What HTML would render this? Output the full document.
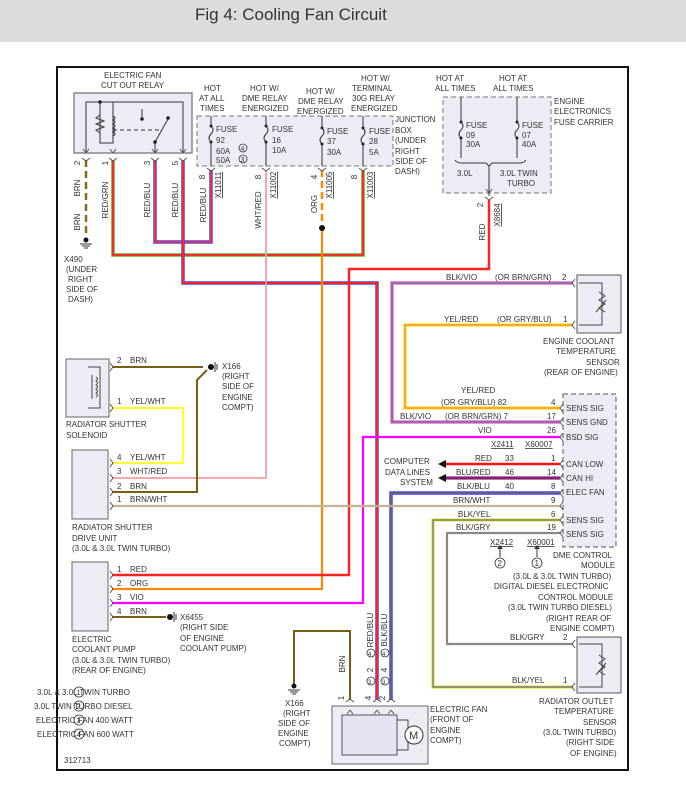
<!DOCTYPE html>
<html><head><meta charset="utf-8"><style>
html,body{margin:0;padding:0;background:#fff;}
svg{display:block;}
text{font-family:"Liberation Sans",sans-serif;font-size:8px;fill:#333;}
.t{font-size:17px;fill:#333;}
</style></head><body>
<svg width="686" height="791" viewBox="0 0 686 791" xmlns="http://www.w3.org/2000/svg">
<rect x="0" y="0" width="686" height="42" fill="#dcdcdc"/>
<text class="t" x="195" y="20">Fig 4: Cooling Fan Circuit</text>
<rect x="57" y="67" width="571" height="703" fill="#fff" stroke="#111" stroke-width="2"/>

<rect x="74" y="93" width="118" height="60" fill="#ececf6" stroke="#888" stroke-width="1.5"/>
<rect x="197" y="116" width="196" height="50" fill="#ececf6" stroke="#777" stroke-dasharray="5,3"/>
<rect x="443" y="97" width="108" height="96" fill="#ececf6" stroke="#777" stroke-dasharray="5,3"/>
<rect x="563" y="394" width="53" height="153" fill="#ececf6" stroke="#555" stroke-dasharray="5,3"/>
<rect x="577" y="275" width="44" height="58" fill="#ececf6" stroke="#555"/>
<rect x="577" y="637" width="44" height="56" fill="#ececf6" stroke="#555"/>
<rect x="66" y="359" width="43" height="58" fill="#ececf6" stroke="#666"/>
<rect x="72" y="450" width="36" height="69" fill="#ececf6" stroke="#666"/>
<rect x="72" y="562" width="36" height="69" fill="#ececf6" stroke="#666"/>
<rect x="332" y="706" width="96" height="58" fill="#ececf6" stroke="#666"/>
<rect x="342" y="715" width="55" height="40" fill="#e4e4f4" stroke="#555"/>

<g stroke="#333" fill="none" stroke-width="1">
<path d="M86 153V102H113M100 102V143H113V102M113 102H183V153M142 120V109"/>
<path d="M100 115l-4 3 8 3-8 3 8 3-8 3 4 3"/>
<path d="M113 116q4 2 0 4q4 2 0 4q4 2 0 4q4 2 0 4q4 2 0 4"/>
<path d="M113 130H160" stroke-dasharray="4,3"/>
<path d="M155 153V142L168 119"/>
</g>
<circle cx="100" cy="102" r="1.8" fill="#222"/><circle cx="142" cy="119" r="1.8" fill="#222"/><circle cx="155" cy="142" r="1.8" fill="#222"/><circle cx="168" cy="118" r="1.8" fill="#222"/>
<text x="104" y="78">ELECTRIC FAN</text><text x="101" y="88">CUT OUT RELAY</text>

<g stroke="#333" fill="none">
<path d="M211 116V126q4 4 0 8q-4 4 0 8V166"/>
<path d="M266 116V126q4 4 0 8q-4 4 0 8V166"/>
<path d="M322 116V128q4 4 0 8q-4 4 0 8V166"/>
<path d="M363 116V128q4 4 0 8q-4 4 0 8V166"/>
<path d="M461 97V122q4 4 0 8q-4 4 0 8V158"/>
<path d="M517 97V122q4 4 0 8q-4 4 0 8V158"/>
<path d="M455 160q2 3 6 3H486l3 3 3-3H520q4 0 6-3M489 166V196"/>
</g>
<g fill="#222"><circle cx="211" cy="126" r="1.5"/><circle cx="211" cy="142" r="1.5"/><circle cx="266" cy="126" r="1.5"/><circle cx="266" cy="142" r="1.5"/><circle cx="322" cy="128" r="1.5"/><circle cx="322" cy="144" r="1.5"/><circle cx="363" cy="128" r="1.5"/><circle cx="363" cy="144" r="1.5"/><circle cx="461" cy="122" r="1.5"/><circle cx="461" cy="138" r="1.5"/><circle cx="517" cy="122" r="1.5"/><circle cx="517" cy="138" r="1.5"/></g>
<text x="216" y="132">FUSE</text><text x="216" y="143">92</text><text x="216" y="154">60A</text><text x="216" y="163">50A</text>
<circle cx="243" cy="148" r="4" fill="none" stroke="#333" stroke-width=".8"/><text x="240.5" y="151" style="font-size:7px">4</text>
<circle cx="243" cy="159" r="4" fill="none" stroke="#333" stroke-width=".8"/><text x="240.5" y="162" style="font-size:7px">3</text>
<text x="272" y="132">FUSE</text><text x="272" y="143">16</text><text x="272" y="153">10A</text>
<text x="327" y="134">FUSE</text><text x="327" y="144">37</text><text x="327" y="155">30A</text>
<text x="369" y="134">FUSE</text><text x="369" y="144">28</text><text x="369" y="155">5A</text>
<text x="204" y="91">HOT</text><text x="199" y="101">AT ALL</text><text x="200" y="111">TIMES</text>
<text x="250" y="91">HOT W/</text><text x="242" y="101">DME RELAY</text><text x="242" y="111">ENERGIZED</text>
<text x="306" y="94">HOT W/</text><text x="298" y="104">DME RELAY</text><text x="297" y="114">ENERGIZED</text>
<text x="361" y="81">HOT W/</text><text x="352" y="91">TERMINAL</text><text x="352" y="101">30G RELAY</text><text x="351" y="111">ENERGIZED</text>
<text x="395" y="122">JUNCTION</text><text x="395" y="133">BOX</text><text x="395" y="143">(UNDER</text><text x="395" y="154">RIGHT</text><text x="395" y="164">SIDE OF</text><text x="395" y="174">DASH)</text>
<text x="436" y="81">HOT AT</text><text x="435" y="91">ALL TIMES</text><text x="499" y="81">HOT AT</text><text x="493" y="91">ALL TIMES</text>
<text x="554" y="104">ENGINE</text><text x="554" y="114">ELECTRONICS</text><text x="554" y="125">FUSE CARRIER</text>
<text x="466" y="128">FUSE</text><text x="466" y="138">09</text><text x="466" y="147">30A</text>
<text x="522" y="128">FUSE</text><text x="522" y="138">07</text><text x="522" y="147">40A</text>
<text x="457" y="176">3.0L</text><text x="500" y="176">3.0L TWIN</text><text x="507" y="186">TURBO</text>

<g fill="none" stroke-linejoin="miter">
<path d="M86 160V235" stroke="#8a6a1a" stroke-width="2.5" stroke-dasharray="7,4"/>
<path d="M113 160V255H363V170" stroke="#6a3" stroke-width="3.5"/><path d="M113 160V255H363V170" stroke="#f22" stroke-width="1.8"/>
<path d="M155 160V242H211V170" stroke="#44f" stroke-width="3.5"/><path d="M155 160V242H211V170" stroke="#e33" stroke-width="1.8"/>
<path d="M183 160V283H377V700" stroke="#44f" stroke-width="3.5"/><path d="M183 160V283H377V700" stroke="#f22" stroke-width="2"/>
<path d="M266 170V478H112" stroke="#f4a8a8" stroke-width="2"/>
<path d="M322 170V228" stroke="#f80" stroke-width="2.5" stroke-dasharray="7,4"/>
<path d="M322 228V589H112" stroke="#f80" stroke-width="2.2"/>
<path d="M489 200V269H349V575H112" stroke="#f22" stroke-width="2.5"/>
<path d="M560 437H363V603H112" stroke="#f0f" stroke-width="2.2"/>
<path d="M573 283H392V422H560" stroke="#e6e" stroke-width="3.5"/><path d="M573 283H392V422H560" stroke="#777" stroke-width="1.6"/>
<path d="M573 325H405V408H560" stroke="#fe3" stroke-width="3.5"/><path d="M573 325H405V408H560" stroke="#f93" stroke-width="1.8"/>
<path d="M560 464H446" stroke="#f11" stroke-width="2.5"/>
<path d="M560 478H446" stroke="#e33" stroke-width="3.5"/><path d="M560 478H446" stroke="#33c" stroke-width="1.8"/>
<path d="M560 493H391V700" stroke="#44f" stroke-width="3.5"/><path d="M560 493H391V700" stroke="#666" stroke-width="1.6"/>
<path d="M560 506H112" stroke="#c0b494" stroke-width="2.2"/>
<path d="M560 520H433V687H573" stroke="#ee5" stroke-width="3.5"/><path d="M560 520H433V687H573" stroke="#777" stroke-width="1.4"/>
<path d="M560 533H447V644H573" stroke="#888" stroke-width="2.2"/>
<path d="M112 367H203M112 492H197V380L207 370" stroke="#7a5c14" stroke-width="2"/>
<path d="M112 408H183V463H112" stroke="#ff3" stroke-width="2.2"/>
<path d="M112 617H166" stroke="#7a5c14" stroke-width="2"/>
<path d="M350 700V631H294V684" stroke="#7a5c14" stroke-width="2"/>
</g>
<circle cx="86" cy="240" r="2.5" fill="#111"/><path d="M80 244H92M82 246H90M84 248H88" stroke="#333"/>
<circle cx="322" cy="228" r="3" fill="#111"/>
<circle cx="294" cy="686" r="2.5" fill="#111"/><path d="M288 690H300M290 692H298M292 694H296" stroke="#333"/>
<circle cx="211" cy="367" r="3" fill="#111"/><path d="M215 362V372M217 364V370" stroke="#333"/>
<circle cx="170" cy="617" r="3" fill="#111"/><path d="M174 612V622M176 614V620" stroke="#333"/>
<path d="M446 460L438 464L446 468Z M446 474L438 478L446 482Z" fill="#111"/>

<g fill="none" stroke="#555" stroke-width="1">
<path d="M82 158l4 3 4-3M109 158l4 3 4-3M151 158l4 3 4-3M179 158l4 3 4-3M207 168l4 3 4-3M262 168l4 3 4-3M318 168l4 3 4-3M359 168l4 3 4-3M485 197l4 3 4-3"/>
<path d="M86 153l-3-4M86 153l3-4M113 153l-3-4M113 153l3-4M155 153l-3-4M155 153l3-4M183 153l-3-4M183 153l3-4M489 193l-3-4M489 193l3-4"/>
<path d="M575 279l-3 4 3 4M575 321l-3 4 3 4M575 640l-3 4 3 4M575 683l-3 4 3 4"/>
<path d="M563 404l-3 4 3 4M563 418l-3 4 3 4M563 433l-3 4 3 4M563 460l-3 4 3 4M563 474l-3 4 3 4M563 489l-3 4 3 4M563 502l-3 4 3 4M563 516l-3 4 3 4M563 529l-3 4 3 4"/>
<path d="M110 363l3 4-3 4M110 404l3 4-3 4M110 459l3 4-3 4M110 474l3 4-3 4M110 488l3 4-3 4M110 502l3 4-3 4M110 571l3 4-3 4M110 585l3 4-3 4M110 599l3 4-3 4M110 613l3 4-3 4"/>
<path d="M346 702l4-3 4 3M373 702l4-3 4 3M387 702l4-3 4 3M350 710l-3 4M350 710l3 4M377 710l-3 4M377 710l3 4M391 710l-3 4M391 710l3 4"/>
</g>
<g fill="none" stroke="#444"><path d="M579 283H602V325H579M599 292l6 4-6 4 6 4-6 4 6 4M596 312l10-12"/>
<path d="M579 644H602V687H579M599 655l6 4-6 4 6 4-6 4 6 4M596 675l10-12"/>
<path d="M88 367H100V408H88M92 375v24M96 377q3 2 0 4q3 2 0 4q3 2 0 4q3 2 0 4q3 2 0 4"/>
<path d="M397 720H408V750H397"/></g>
<circle cx="414" cy="735" r="9" fill="#fff" stroke="#333"/><text x="409" y="739" style="font-size:11px">M</text>

<g>
<text transform="rotate(-90 80 163)" x="80" y="163" text-anchor="middle">2</text>
<text transform="rotate(-90 108 163)" x="108" y="163" text-anchor="middle">1</text>
<text transform="rotate(-90 150 163)" x="150" y="163" text-anchor="middle">3</text>
<text transform="rotate(-90 178 163)" x="178" y="163" text-anchor="middle">5</text>
<text transform="rotate(-90 205 177)" x="205" y="177" text-anchor="middle">8</text>
<text transform="rotate(-90 261 177)" x="261" y="177" text-anchor="middle">8</text>
<text transform="rotate(-90 317 177)" x="317" y="177" text-anchor="middle">4</text>
<text transform="rotate(-90 357 177)" x="357" y="177" text-anchor="middle">8</text>
<text transform="rotate(-90 483 205)" x="483" y="205" text-anchor="middle">2</text>
<text transform="rotate(-90 80 188)" x="80" y="188" text-anchor="middle">BRN</text>
<text transform="rotate(-90 80 222)" x="80" y="222" text-anchor="middle">BRN</text>
<text transform="rotate(-90 108 200)" x="108" y="200" text-anchor="middle">RED/GRN</text>
<text transform="rotate(-90 150 200)" x="150" y="200" text-anchor="middle">RED/BLU</text>
<text transform="rotate(-90 178 200)" x="178" y="200" text-anchor="middle">RED/BLU</text>
<text transform="rotate(-90 206 205)" x="206" y="205" text-anchor="middle">RED/BLU</text>
<text transform="rotate(-90 221 185)" x="221" y="185" text-anchor="middle" text-decoration="underline">X11011</text>
<text transform="rotate(-90 261 210)" x="261" y="210" text-anchor="middle">WHT/RED</text>
<text transform="rotate(-90 276 185)" x="276" y="185" text-anchor="middle" text-decoration="underline">X11002</text>
<text transform="rotate(-90 317 204)" x="317" y="204" text-anchor="middle">ORG</text>
<text transform="rotate(-90 332 185)" x="332" y="185" text-anchor="middle" text-decoration="underline">X11005</text>
<text transform="rotate(-90 373 185)" x="373" y="185" text-anchor="middle" text-decoration="underline">X11003</text>
<text transform="rotate(-90 485 232)" x="485" y="232" text-anchor="middle">RED</text>
<text transform="rotate(-90 500 215)" x="500" y="215" text-anchor="middle" text-decoration="underline">X8684</text>
<text transform="rotate(-90 345 664)" x="345" y="664" text-anchor="middle">BRN</text>
<text transform="rotate(-90 373 630)" x="373" y="630" text-anchor="middle">RED/BLU</text>
<text transform="rotate(-90 387 630)" x="387" y="630" text-anchor="middle">BLK/BLU</text>
<text transform="rotate(-90 373 670)" x="373" y="670" text-anchor="middle">2</text>
<text transform="rotate(-90 387 670)" x="387" y="670" text-anchor="middle">4</text>
<text transform="rotate(-90 344 698)" x="344" y="698" text-anchor="middle">1</text>
<text transform="rotate(-90 371 698)" x="371" y="698" text-anchor="middle">4</text>
<text transform="rotate(-90 385 698)" x="385" y="698" text-anchor="middle">2</text>
</g>
<g fill="none" stroke="#333" stroke-width=".8"><circle cx="371" cy="653" r="4"/><circle cx="385" cy="653" r="4"/><circle cx="371" cy="681" r="4"/><circle cx="385" cy="681" r="4"/>
<circle cx="500" cy="563" r="5"/><circle cx="537" cy="563" r="5"/>
<circle cx="79" cy="692" r="5"/><circle cx="79" cy="706" r="5"/><circle cx="79" cy="720" r="5"/><circle cx="79" cy="734" r="5"/></g>
<text x="368" y="656" style="font-size:6px">4</text><text x="382" y="656" style="font-size:6px">4</text><text x="368" y="684" style="font-size:6px">3</text><text x="382" y="684" style="font-size:6px">3</text>
<text x="497.5" y="566">2</text><text x="534.5" y="566">1</text>
<text x="76.5" y="695" style="font-size:7px">1</text><text x="76.5" y="709" style="font-size:7px">2</text><text x="76.5" y="723" style="font-size:7px">3</text><text x="76.5" y="737" style="font-size:7px">4</text>
<path d="M500 557V546M537 557V546" stroke="#333"/><path d="M497 549l3-4 3 4M534 549l3-4 3 4" fill="#333"/>

<text x="64" y="262">X490</text><text x="66" y="272">(UNDER</text><text x="68" y="282">RIGHT</text><text x="66" y="292">SIDE OF</text><text x="68" y="302">DASH)</text>
<text x="446" y="280">BLK/VIO</text><text x="495" y="280">(OR BRN/GRN)</text><text x="562" y="280">2</text>
<text x="444" y="322">YEL/RED</text><text x="497" y="322">(OR GRY/BLU)</text><text x="563" y="322">1</text>
<text x="543" y="344">ENGINE COOLANT</text><text x="556" y="354">TEMPERATURE</text><text x="586" y="365">SENSOR</text><text x="544" y="375">(REAR OF ENGINE)</text>
<text x="461" y="393">YEL/RED</text><text x="441" y="405">(OR GRY/BLU)  82</text><text x="551" y="405">4</text>
<text x="400" y="419">BLK/VIO</text><text x="445" y="419">(OR BRN/GRN) 7</text><text x="547" y="419">17</text>
<text x="478" y="433">VIO</text><text x="547" y="433">26</text>
<text x="491" y="447" text-decoration="underline">X2411</text><text x="525" y="447" text-decoration="underline">X60007</text>
<text x="475" y="461">RED</text><text x="505" y="461">33</text><text x="551" y="461">1</text>
<text x="456" y="475">BLU/RED</text><text x="505" y="475">46</text><text x="547" y="475">14</text>
<text x="457" y="489">BLK/BLU</text><text x="505" y="489">40</text><text x="551" y="489">8</text>
<text x="453" y="503">BRN/WHT</text><text x="551" y="503">9</text>
<text x="458" y="517">BLK/YEL</text><text x="551" y="517">6</text>
<text x="456" y="530">BLK/GRY</text><text x="547" y="530">19</text>
<text x="490" y="545" text-decoration="underline">X2412</text><text x="527" y="545" text-decoration="underline">X60001</text>
<text x="384" y="464">COMPUTER</text><text x="385" y="475">DATA LINES</text><text x="400" y="485">SYSTEM</text>
<text x="566" y="411">SENS SIG</text><text x="566" y="425">SENS GND</text><text x="566" y="440">BSD SIG</text>
<text x="566" y="467">CAN LOW</text><text x="566" y="481">CAN HI</text><text x="566" y="495">ELEC FAN</text>
<text x="566" y="523">SENS SIG</text><text x="566" y="537">SENS SIG</text>
<text x="553" y="558">DME CONTROL</text><text x="581" y="568">MODULE</text>
<text x="513" y="579">(3.0L &amp; 3.0L TWIN TURBO)</text><text x="494" y="589">DIGITAL DIESEL ELECTRONIC</text>
<text x="538" y="600">CONTROL MODULE</text><text x="508" y="610">(3.0L TWIN TURBO DIESEL)</text>
<text x="546" y="621">(RIGHT REAR OF</text><text x="550" y="631">ENGINE COMPT)</text>
<text x="510" y="640">BLK/GRY</text><text x="563" y="640">2</text>
<text x="512" y="683">BLK/YEL</text><text x="563" y="683">1</text>
<text x="539" y="704">RADIATOR OUTLET</text><text x="554" y="714">TEMPERATURE</text><text x="583" y="725">SENSOR</text>
<text x="543" y="735">(3.0L TWIN TURBO)</text><text x="566" y="745">(RIGHT SIDE</text><text x="570" y="756">OF ENGINE)</text>
<text x="430" y="712">ELECTRIC FAN</text><text x="430" y="722">(FRONT OF</text><text x="430" y="733">ENGINE</text><text x="430" y="743">COMPT)</text>
<text x="285" y="706">X166</text><text x="283" y="716">(RIGHT</text><text x="278" y="726">SIDE OF</text><text x="278" y="736">ENGINE</text><text x="279" y="746">COMPT)</text>
<text x="117" y="363">2</text><text x="130" y="363">BRN</text>
<text x="117" y="404">1</text><text x="130" y="404">YEL/WHT</text>
<text x="222" y="369">X166</text><text x="222" y="379">(RIGHT</text><text x="222" y="389">SIDE OF</text><text x="222" y="400">ENGINE</text><text x="222" y="410">COMPT)</text>
<text x="66" y="427">RADIATOR SHUTTER</text><text x="66" y="438">SOLENOID</text>
<text x="117" y="460">4</text><text x="130" y="460">YEL/WHT</text>
<text x="117" y="474">3</text><text x="130" y="474">WHT/RED</text>
<text x="117" y="489">2</text><text x="130" y="489">BRN</text>
<text x="117" y="502">1</text><text x="130" y="502">BRN/WHT</text>
<text x="72" y="530">RADIATOR SHUTTER</text><text x="72" y="541">DRIVE UNIT</text><text x="72" y="551">(3.0L &amp; 3.0L TWIN TURBO)</text>
<text x="117" y="572">1</text><text x="130" y="572">RED</text>
<text x="117" y="586">2</text><text x="130" y="586">ORG</text>
<text x="117" y="600">3</text><text x="130" y="600">VIO</text>
<text x="117" y="614">4</text><text x="130" y="614">BRN</text>
<text x="180" y="620">X6455</text><text x="180" y="630">(RIGHT SIDE</text><text x="180" y="641">OF ENGINE</text><text x="180" y="651">COOLANT PUMP)</text>
<text x="72" y="642">ELECTRIC</text><text x="72" y="652">COOLANT PUMP</text><text x="72" y="663">(3.0L &amp; 3.0L TWIN TURBO)</text><text x="72" y="673">(REAR OF ENGINE)</text>
<text x="37" y="695">3.0L &amp; 3.0L TWIN TURBO</text><text x="34" y="709">3.0L TWIN TURBO DIESEL</text>
<text x="36" y="723">ELECTRIC FAN 400 WATT</text><text x="37" y="737">ELECTRIC FAN 600 WATT</text>
<text x="64" y="763">312713</text>
</svg>
</body></html>
